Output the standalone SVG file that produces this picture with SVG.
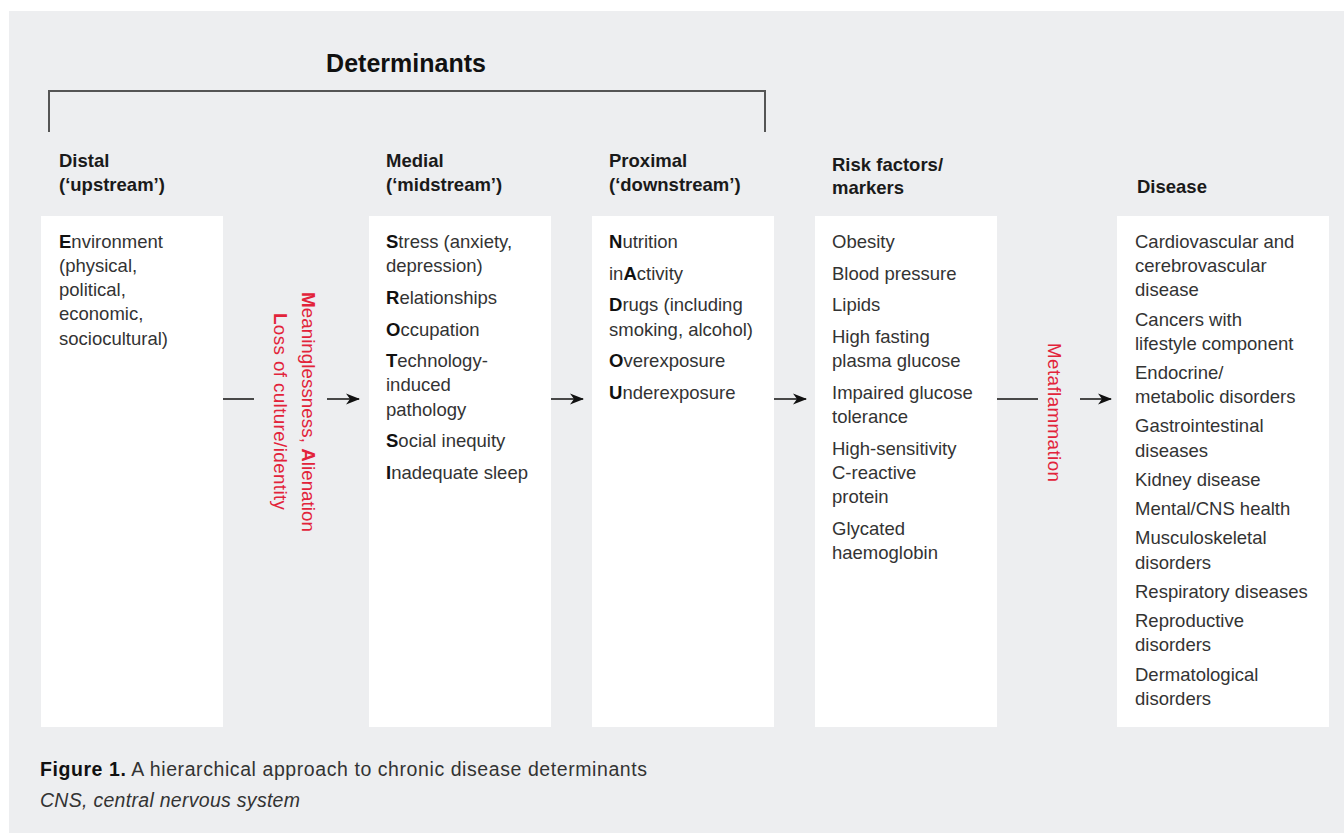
<svg xmlns="http://www.w3.org/2000/svg" width="1344" height="833" viewBox="0 0 1344 833">
<style>
text{font-family:"Liberation Sans",Arial,sans-serif;}
.title{font-size:25px;font-weight:bold;fill:#111;}
.hd{font-size:18.5px;font-weight:bold;fill:#1a1a1a;}
.bd{font-size:18.5px;fill:#333;}
.bd tspan.b{font-weight:bold;fill:#111;}
.red{font-size:18.8px;fill:#E2233A;}
.box{fill:#fff;}
.ln{stroke:#111;stroke-width:1.5;fill:none;}
.br{stroke:#555;stroke-width:2;fill:none;}
.cap{font-size:19.5px;fill:#333;}
</style>
<defs>
<marker id="ah" markerWidth="14" markerHeight="12" refX="13" refY="6" orient="auto" markerUnits="userSpaceOnUse">
<path d="M0,0.5 L14,6 L0,11.5 L4,6 Z" fill="#111"/>
</marker>
</defs>
<rect x="0" y="0" width="1344" height="833" fill="#fff"/>
<rect x="9" y="11" width="1335" height="822" fill="#EDEEF0"/>

<g id="header">
<text class="title" x="406" y="72" text-anchor="middle">Determinants</text>
<path class="br" d="M49,132 V91 H765 V132"/>
</g>

<g id="distal">
<text class="hd" x="59" y="167">Distal</text>
<text class="hd" x="59" y="191">(‘upstream’)</text>
<rect class="box" x="41" y="216" width="182" height="511"/>
<text class="bd" x="59" y="248"><tspan class="b">E</tspan>nvironment</text>
<text class="bd" x="59" y="272">(physical,</text>
<text class="bd" x="59" y="296">political,</text>
<text class="bd" x="59" y="320">economic,</text>
<text class="bd" x="59" y="345">sociocultural)</text>
</g>

<g id="medial">
<text class="hd" x="386" y="167">Medial</text>
<text class="hd" x="386" y="191">(‘midstream’)</text>
<rect class="box" x="369" y="216" width="182" height="511"/>
<text class="bd" x="386" y="248"><tspan class="b">S</tspan>tress (anxiety,</text>
<text class="bd" x="386" y="272">depression)</text>
<text class="bd" x="386" y="304"><tspan class="b">R</tspan>elationships</text>
<text class="bd" x="386" y="336"><tspan class="b">O</tspan>ccupation</text>
<text class="bd" x="386" y="367"><tspan class="b">T</tspan>echnology-</text>
<text class="bd" x="386" y="391">induced</text>
<text class="bd" x="386" y="416">pathology</text>
<text class="bd" x="386" y="447"><tspan class="b">S</tspan>ocial inequity</text>
<text class="bd" x="386" y="479"><tspan class="b">I</tspan>nadequate sleep</text>
</g>

<g id="proximal">
<text class="hd" x="609" y="167">Proximal</text>
<text class="hd" x="609" y="191">(‘downstream’)</text>
<rect class="box" x="592" y="216" width="182" height="511"/>
<text class="bd" x="609" y="248"><tspan class="b">N</tspan>utrition</text>
<text class="bd" x="609" y="280">in<tspan class="b">A</tspan>ctivity</text>
<text class="bd" x="609" y="311"><tspan class="b">D</tspan>rugs (including</text>
<text class="bd" x="609" y="336">smoking, alcohol)</text>
<text class="bd" x="609" y="367"><tspan class="b">O</tspan>verexposure</text>
<text class="bd" x="609" y="399"><tspan class="b">U</tspan>nderexposure</text>
</g>

<g id="riskfactors">
<text class="hd" x="832" y="171">Risk factors/</text>
<text class="hd" x="832" y="194">markers</text>
<rect class="box" x="815" y="216" width="182" height="511"/>
<text class="bd" x="832" y="248">Obesity</text>
<text class="bd" x="832" y="280">Blood pressure</text>
<text class="bd" x="832" y="311">Lipids</text>
<text class="bd" x="832" y="343">High fasting</text>
<text class="bd" x="832" y="367">plasma glucose</text>
<text class="bd" x="832" y="399">Impaired glucose</text>
<text class="bd" x="832" y="423">tolerance</text>
<text class="bd" x="832" y="455">High-sensitivity</text>
<text class="bd" x="832" y="479">C-reactive</text>
<text class="bd" x="832" y="503">protein</text>
<text class="bd" x="832" y="535">Glycated</text>
<text class="bd" x="832" y="559">haemoglobin</text>
</g>

<g id="disease">
<text class="hd" x="1137" y="193">Disease</text>
<rect class="box" x="1117" y="216" width="212" height="511"/>
<text class="bd" x="1135" y="248">Cardiovascular and</text>
<text class="bd" x="1135" y="272">cerebrovascular</text>
<text class="bd" x="1135" y="296">disease</text>
<text class="bd" x="1135" y="326">Cancers with</text>
<text class="bd" x="1135" y="350">lifestyle component</text>
<text class="bd" x="1135" y="379">Endocrine/</text>
<text class="bd" x="1135" y="403">metabolic disorders</text>
<text class="bd" x="1135" y="432">Gastrointestinal</text>
<text class="bd" x="1135" y="457">diseases</text>
<text class="bd" x="1135" y="486">Kidney disease</text>
<text class="bd" x="1135" y="515">Mental/CNS health</text>
<text class="bd" x="1135" y="544">Musculoskeletal</text>
<text class="bd" x="1135" y="569">disorders</text>
<text class="bd" x="1135" y="598">Respiratory diseases</text>
<text class="bd" x="1135" y="627">Reproductive</text>
<text class="bd" x="1135" y="651">disorders</text>
<text class="bd" x="1135" y="681">Dermatological</text>
<text class="bd" x="1135" y="705">disorders</text>
</g>

<g id="connectors">
<line class="ln" x1="223" y1="399" x2="254" y2="399"/>
<line class="ln" x1="327" y1="399" x2="359" y2="399" marker-end="url(#ah)"/>
<line class="ln" x1="551" y1="399" x2="583" y2="399" marker-end="url(#ah)"/>
<line class="ln" x1="774" y1="399" x2="806" y2="399" marker-end="url(#ah)"/>
<line class="ln" x1="997" y1="399" x2="1038" y2="399"/>
<line class="ln" x1="1080" y1="399" x2="1111" y2="399" marker-end="url(#ah)"/>
<text class="red" transform="translate(302,292) rotate(90)" textLength="240"><tspan font-weight="bold">M</tspan>eaninglessness, <tspan font-weight="bold">A</tspan>lienation</text>
<text class="red" transform="translate(274,313) rotate(90)" textLength="197"><tspan font-weight="bold">L</tspan>oss of culture/identity</text>
<text class="red" transform="translate(1048,343) rotate(90)" textLength="139">Metaflammation</text>
</g>

<g id="caption">
<text class="cap" x="40" y="776" textLength="607"><tspan font-weight="bold" fill="#111">Figure 1.</tspan> A hierarchical approach to chronic disease determinants</text>
<text class="cap" x="40" y="807" font-style="italic" textLength="260">CNS, central nervous system</text>
</g>
</svg>
